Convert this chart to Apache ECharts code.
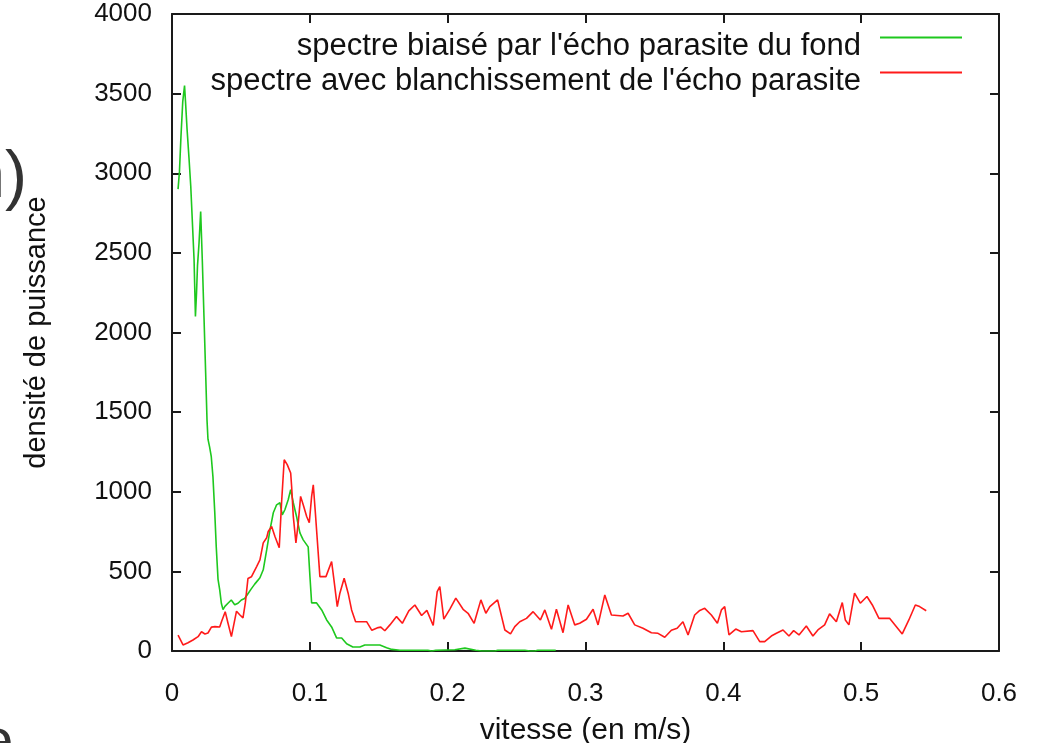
<!DOCTYPE html>
<html><head><meta charset="utf-8">
<script src="https://cdn.jsdelivr.net/npm/echarts@6/dist/echarts.min.js"></script>
<style>html,body{margin:0;padding:0;background:#fff}#c{width:1039px;height:743px}</style>
</head><body><div id="c"></div>
<script>
const seriesNames = ["spectre biaisé par l'écho parasite du fond", "spectre avec blanchissement de l'écho parasite"];
const xAxisName = "vitesse (en m/s)";
const yAxisName = "densité de puissance";

const greenX = [0.0044,0.0054,0.0065,0.0078,0.0091,0.0098,0.0109,0.0123,0.0136,0.0147,0.0160,0.0170,0.0178,0.0185,0.0196,0.0208,0.0220,0.0232,0.0244,0.0254,0.0261,0.0273,0.0285,0.0297,0.0310,0.0321,0.0334,0.0346,0.0358,0.0370,0.0384,0.0406,0.0430,0.0455,0.0479,0.0503,0.0527,0.0551,0.0575,0.0600,0.0624,0.0638,0.0662,0.0687,0.0711,0.0735,0.0759,0.0783,0.0800,0.0819,0.0843,0.0861,0.0880,0.0904,0.0928,0.0952,0.0988,0.1001,0.1013,0.1049,0.1086,0.1122,0.1158,0.1194,0.1231,0.1267,0.1312,0.1363,0.1399,0.1508,0.1557,0.1595,0.1653,0.1856,0.1885,0.1914,0.2052,0.2125,0.2204,0.2248,0.2342,0.2364,0.2560,0.2596,0.2632,0.2654,0.2784];
const greenY = [2900,3010,3230,3450,3550,3450,3280,3100,2920,2710,2460,2100,2250,2420,2560,2760,2450,2100,1750,1450,1330,1280,1220,1095,875,655,450,385,300,260,280,300,320,290,300,320,330,360,390,420,445,460,510,635,760,868,918,931,855,887,950,1013,931,843,742,698,654,465,302,302,258,195,151,82,82,45,25,25,38,38,21,10,5,5,0,5,8,18,5,0,0,5,5,0,0,5,5];

const redX = [0.0044,0.0080,0.0116,0.0152,0.0189,0.0214,0.0239,0.0261,0.0286,0.0312,0.0346,0.0359,0.0386,0.0406,0.0431,0.0468,0.0493,0.0515,0.0532,0.0551,0.0576,0.0614,0.0638,0.0662,0.0687,0.0698,0.0723,0.0747,0.0778,0.0795,0.0814,0.0836,0.0861,0.0868,0.0880,0.0899,0.0916,0.0933,0.0952,0.0977,0.0996,0.1013,0.1025,0.1042,0.1073,0.1117,0.1158,0.1175,0.1199,0.1218,0.1249,0.1278,0.1303,0.1332,0.1412,0.1450,0.1496,0.1515,0.1544,0.1581,0.1629,0.1671,0.1718,0.1762,0.1811,0.1849,0.1895,0.1924,0.1943,0.1972,0.2016,0.2059,0.2112,0.2148,0.2192,0.2241,0.2277,0.2306,0.2362,0.2415,0.2456,0.2487,0.2523,0.2572,0.2620,0.2673,0.2705,0.2753,0.2789,0.2837,0.2874,0.2922,0.2958,0.3007,0.3055,0.3091,0.3140,0.3188,0.3272,0.3309,0.3357,0.3417,0.3478,0.3526,0.3575,0.3623,0.3665,0.3707,0.3744,0.3792,0.3829,0.3865,0.3913,0.3957,0.3986,0.4010,0.4041,0.4090,0.4131,0.4215,0.4264,0.4300,0.4348,0.4385,0.4433,0.4476,0.4510,0.4549,0.4602,0.4650,0.4686,0.4735,0.4771,0.4820,0.4863,0.4885,0.4911,0.4952,0.4994,0.5042,0.5081,0.5129,0.5206,0.5298,0.5346,0.5393,0.5424,0.5472];
const redY = [100,38,52,69,90,121,107,113,150,153,151,184,247,176,90,250,226,208,302,455,466,530,572,679,711,750,782,719,648,931,1201,1170,1118,1033,845,679,805,971,918,845,805,971,1044,845,467,467,562,447,279,363,457,363,258,184,184,130,147,150,127,164,216,174,252,289,223,255,160,373,405,200,263,332,262,237,174,321,237,279,321,132,107,153,184,205,247,195,258,136,262,115,289,164,174,199,262,164,352,226,220,237,164,143,115,111,86,130,143,184,101,226,255,268,226,174,258,279,101,138,121,128,59,59,94,111,132,94,128,101,157,94,132,164,233,184,304,195,164,363,300,342,289,205,205,107,195,289,279,253];

const xMin = 0, xMax = 0.6, xStep = 0.1;
const yMin = 0, yMax = 4000, yStep = 500;

function pairs(xs, ys) { return xs.map((x, i) => [x, ys[i]]); }

const FONT = "'Liberation Sans', Arial, sans-serif";
const axisCol = '#1a1a1a';
const txtCol = '#111';
const chart = echarts.init(document.getElementById('c'), null, { renderer: 'canvas' });

const baseLine = { show: true, onZero: false, lineStyle: { color: axisCol, width: 2 } };
const baseTick = { show: true, inside: true, length: 9, lineStyle: { color: axisCol, width: 2 } };

chart.setOption({
  animation: false,
  backgroundColor: '#fff',
  grid: { left: 172, right: 40, top: 14, bottom: 92, containLabel: false, outerBoundsMode: 'none' },
  legend: {
    orient: 'vertical', right: 77, top: 13, align: 'right', padding: 0,
    itemWidth: 82, itemHeight: 2, itemGap: -14, icon: 'rect',
    formatter: name => '\n' + name,
    textStyle: { fontFamily: FONT, fontSize: 31, color: txtCol, lineHeight: 18, padding: [0, 14, 0, 0] },
    data: seriesNames
  },
  xAxis: [
    { type: 'value', min: xMin, max: xMax, interval: xStep, position: 'bottom',
      name: xAxisName, nameLocation: 'middle', nameGap: 65,
      nameTextStyle: { fontFamily: FONT, fontSize: 30, color: txtCol },
      axisLine: baseLine, axisTick: baseTick, splitLine: { show: false },
      axisLabel: { fontFamily: FONT, fontSize: 26, color: txtCol, margin: 30 } },
    { type: 'value', min: xMin, max: xMax, interval: xStep, position: 'top',
      axisLine: baseLine, axisTick: baseTick, splitLine: { show: false }, axisLabel: { show: false } }
  ],
  yAxis: [
    { type: 'value', min: yMin, max: yMax, interval: yStep, position: 'left',
      name: yAxisName, nameLocation: 'middle', nameGap: 121, nameRotate: 90,
      nameTextStyle: { fontFamily: FONT, fontSize: 29, color: txtCol },
      axisLine: baseLine, axisTick: baseTick, splitLine: { show: false },
      axisLabel: { fontFamily: FONT, fontSize: 26, color: txtCol, margin: 20, formatter: v => String(v) } },
    { type: 'value', min: yMin, max: yMax, interval: yStep, position: 'right',
      axisLine: baseLine, axisTick: baseTick, splitLine: { show: false }, axisLabel: { show: false } }
  ],
  series: [
    { name: seriesNames[0], type: 'line', data: pairs(greenX, greenY), showSymbol: false,
      lineStyle: { color: '#1ec81e', width: 1.6 }, itemStyle: { color: '#1ec81e' }, z: 3 },
    { name: seriesNames[1], type: 'line', data: pairs(redX, redY), showSymbol: false,
      lineStyle: { color: '#ff1a1a', width: 1.6 }, itemStyle: { color: '#ff1a1a' }, z: 4 }
  ],
  graphic: [
    { type: 'text', x: 27, y: 179, style: { text: 'n)', font: "66px " + FONT, fill: '#333', align: 'right', verticalAlign: 'middle' } },
    { type: 'text', left: -20, top: 713, style: { text: 'e', font: "60px " + FONT, fill: '#333' } }
  ]
});
</script></body></html>
